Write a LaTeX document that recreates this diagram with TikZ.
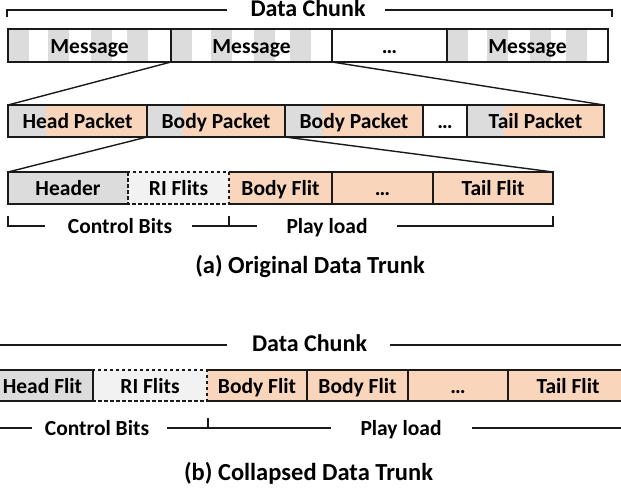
\documentclass[tikz,border=0pt]{standalone}
\usepackage{fontspec}
\setmainfont{Carlito}
\usetikzlibrary{calc}
\definecolor{cgrey}{HTML}{DCDCDC}
\definecolor{cpeach}{HTML}{F9D5BC}
\definecolor{cri}{HTML}{F2F2F2}
\definecolor{cline}{HTML}{1A1A1A}

\begin{document}
\begin{tikzpicture}[x=1pt,y=-1pt,
  font=\fontsize{21.5}{24}\selectfont\bfseries,
  cell/.style={anchor=north west, inner sep=0pt, outer sep=0pt,
    text height=15pt, text depth=0pt, text=black},
  boxed/.style={cell, draw=cline, line width=1.2pt},
  border/.style={draw=cline, line width=1.2pt},
  dashborder/.style={border, dash pattern=on 3.5pt off 2.5pt},
  msg/.style={path picture={
    \foreach \a/\b in {0/21,40/61,83/104,119/140}{
      \fill[cgrey] ([xshift=\a pt]path picture bounding box.north west)
        rectangle ([xshift=\b pt]path picture bounding box.south west);}}},
  greyleft/.style={fill=cpeach, path picture={
    \fill[cgrey] (path picture bounding box.north west)
      rectangle ([xshift=#1]path picture bounding box.south west);}},
  zoomline/.style={draw=cline, line width=1.4pt},
  bracket/.style={draw=cline, line width=1.5pt},
  lab/.style={anchor=base, inner sep=0pt},
  title/.style={lab, font=\fontsize{24}{28}\selectfont\bfseries},
  caption/.style={lab, font=\fontsize{24.5}{28}\selectfont\bfseries}]

\useasboundingbox (0,0) rectangle (621,490);

% ---------- (a) data chunk split into messages ----------
\node[title] (dc1) at (308,16.5) {Data Chunk};
\coordinate (dcA) at (7,17);
\coordinate (dcB) at (227,10);
\coordinate (dcC) at (385,10);
\coordinate (dcD) at (612,17);
\draw[bracket] (dcA) |- (dcB);
\draw[bracket] (dcC) -| (dcD);

\node[boxed, msg, minimum width=163pt, minimum height=33pt] (m1) at (8,29) {Message};
\node[boxed, msg, minimum width=161pt, minimum height=33pt] (m2) at (171,29) {Message};
\node[boxed, minimum width=115pt, minimum height=33pt] (m3) at (332,29) {…};
\node[boxed, msg, minimum width=161pt, minimum height=33pt] (m4) at (447,29) {Message};

% ---------- packets of one message ----------
\node[boxed, greyleft=38pt, minimum width=139pt, minimum height=32pt] (p1) at (8,105) {Head Packet};
\node[boxed, greyleft=36pt, minimum width=138pt, minimum height=32pt] (p2) at (147,105) {Body Packet};
\node[boxed, greyleft=38pt, minimum width=138pt, minimum height=32pt] (p3) at (285,105) {Body Packet};
\node[boxed, fill=white, minimum width=44pt, minimum height=32pt] (p4) at (423,105) {…};
\node[boxed, greyleft=37pt, minimum width=137pt, minimum height=32pt] (p5) at (467,105) {Tail Packet};

\draw[zoomline] (m2.south west) -- (p1.north west);
\draw[zoomline] (m2.south east) -- (p5.north east);

% ---------- flits of one packet ----------
\node[cell, fill=cgrey, minimum width=120pt, minimum height=32pt] (hd1) at (8,172) {Header};
\node[cell, fill=cri, minimum width=101pt, minimum height=32pt] (ri1) at (128,172) {RI Flits};
\node[cell, fill=cpeach, minimum width=103pt, minimum height=32pt] (bf1) at (229,172) {Body Flit};
\node[cell, fill=cpeach, minimum width=101pt, minimum height=32pt] (dt1) at (332,172) {…};
\node[cell, fill=cpeach, minimum width=120pt, minimum height=32pt] (tf1) at (433,172) {Tail Flit};

\draw[border] (ri1.north west) -- (hd1.north west) -- (hd1.south west) -- (ri1.south west);
\draw[dashborder] (ri1.north west) rectangle (ri1.south east);
\draw[border] (ri1.north east) -- (tf1.north east) -- (tf1.south east) -- (ri1.south east);
\draw[border] (bf1.north east) -- (bf1.south east);
\draw[border] (dt1.north east) -- (dt1.south east);

\draw[zoomline] (p2.south west) -- (hd1.north west);
\draw[zoomline] (p2.south east) -- (tf1.north east);

% ---------- control / payload brackets ----------
\node[lab] (cb1) at (120,233.5) {Control Bits};
\node[lab] (pl1) at (327,233.5) {Play load};
\coordinate (ca1) at (8,216);
\coordinate (ca2) at (45,226);
\coordinate (ca3) at (192,226);
\coordinate (ca4) at (257,226);
\coordinate (ca5) at (229,216);
\coordinate (ca6) at (397,226);
\coordinate (ca7) at (553,216);
\draw[bracket] (ca1) |- (ca2);
\draw[bracket] (ca3) -- (ca4);
\draw[bracket] (ca5) -- (ca5 |- ca3);
\draw[bracket] (ca6) -| (ca7);

\node[caption] (capa) at (310,273) {(a) Original Data Trunk};

% ---------- (b) collapsed chunk ----------
\node[title] (dc2) at (309.5,351.5) {Data Chunk};
\coordinate (dbA) at (-5,345);
\coordinate (dbB) at (227,345);
\coordinate (dbC) at (390,345);
\coordinate (dbD) at (626,345);
\draw[bracket] (dbA) -- (dbB);
\draw[bracket] (dbC) -- (dbD);

\node[cell, fill=cgrey, minimum width=101pt, minimum height=31pt] (hf2) at (-8,370) {Head Flit};
\node[cell, fill=cri, minimum width=114pt, minimum height=31pt] (ri2) at (93,370) {RI Flits};
\node[cell, fill=cpeach, minimum width=100pt, minimum height=31pt] (bf2) at (207,370) {Body Flit};
\node[cell, fill=cpeach, minimum width=101pt, minimum height=31pt] (bf3) at (307,370) {Body Flit};
\node[cell, fill=cpeach, minimum width=100pt, minimum height=31pt] (dt2) at (408,370) {…};
\node[cell, fill=cpeach, minimum width=120pt, minimum height=31pt] (tf2) at (508,370) {Tail Flit};

\draw[dashborder] (ri2.north west) rectangle (ri2.south east);
\draw[border] (hf2.north west) rectangle (hf2.south east);
\draw[border] (ri2.north east) -- (tf2.north east);
\draw[border] (ri2.south east) -- (tf2.south east);
\draw[border] (bf2.north east) -- (bf2.south east);
\draw[border] (bf3.north east) -- (bf3.south east);
\draw[border] (dt2.north east) -- (dt2.south east);

\node[lab] (cb2) at (97,435.5) {Control Bits};
\node[lab] (pl2) at (401,435.5) {Play load};
\coordinate (cc1) at (-5,428);
\coordinate (cc2) at (32,428);
\coordinate (cc3) at (167,428);
\coordinate (cc4) at (331,428);
\coordinate (cc5) at (208,418);
\coordinate (cc6) at (472,428);
\coordinate (cc7) at (626,428);
\draw[bracket] (cc1) -- (cc2);
\draw[bracket] (cc3) -- (cc4);
\draw[bracket] (cc5) -- (cc5 |- cc3);
\draw[bracket] (cc6) -- (cc7);

\node[caption] (capb) at (308.5,480) {(b) Collapsed Data Trunk};
\end{tikzpicture}
\end{document}
